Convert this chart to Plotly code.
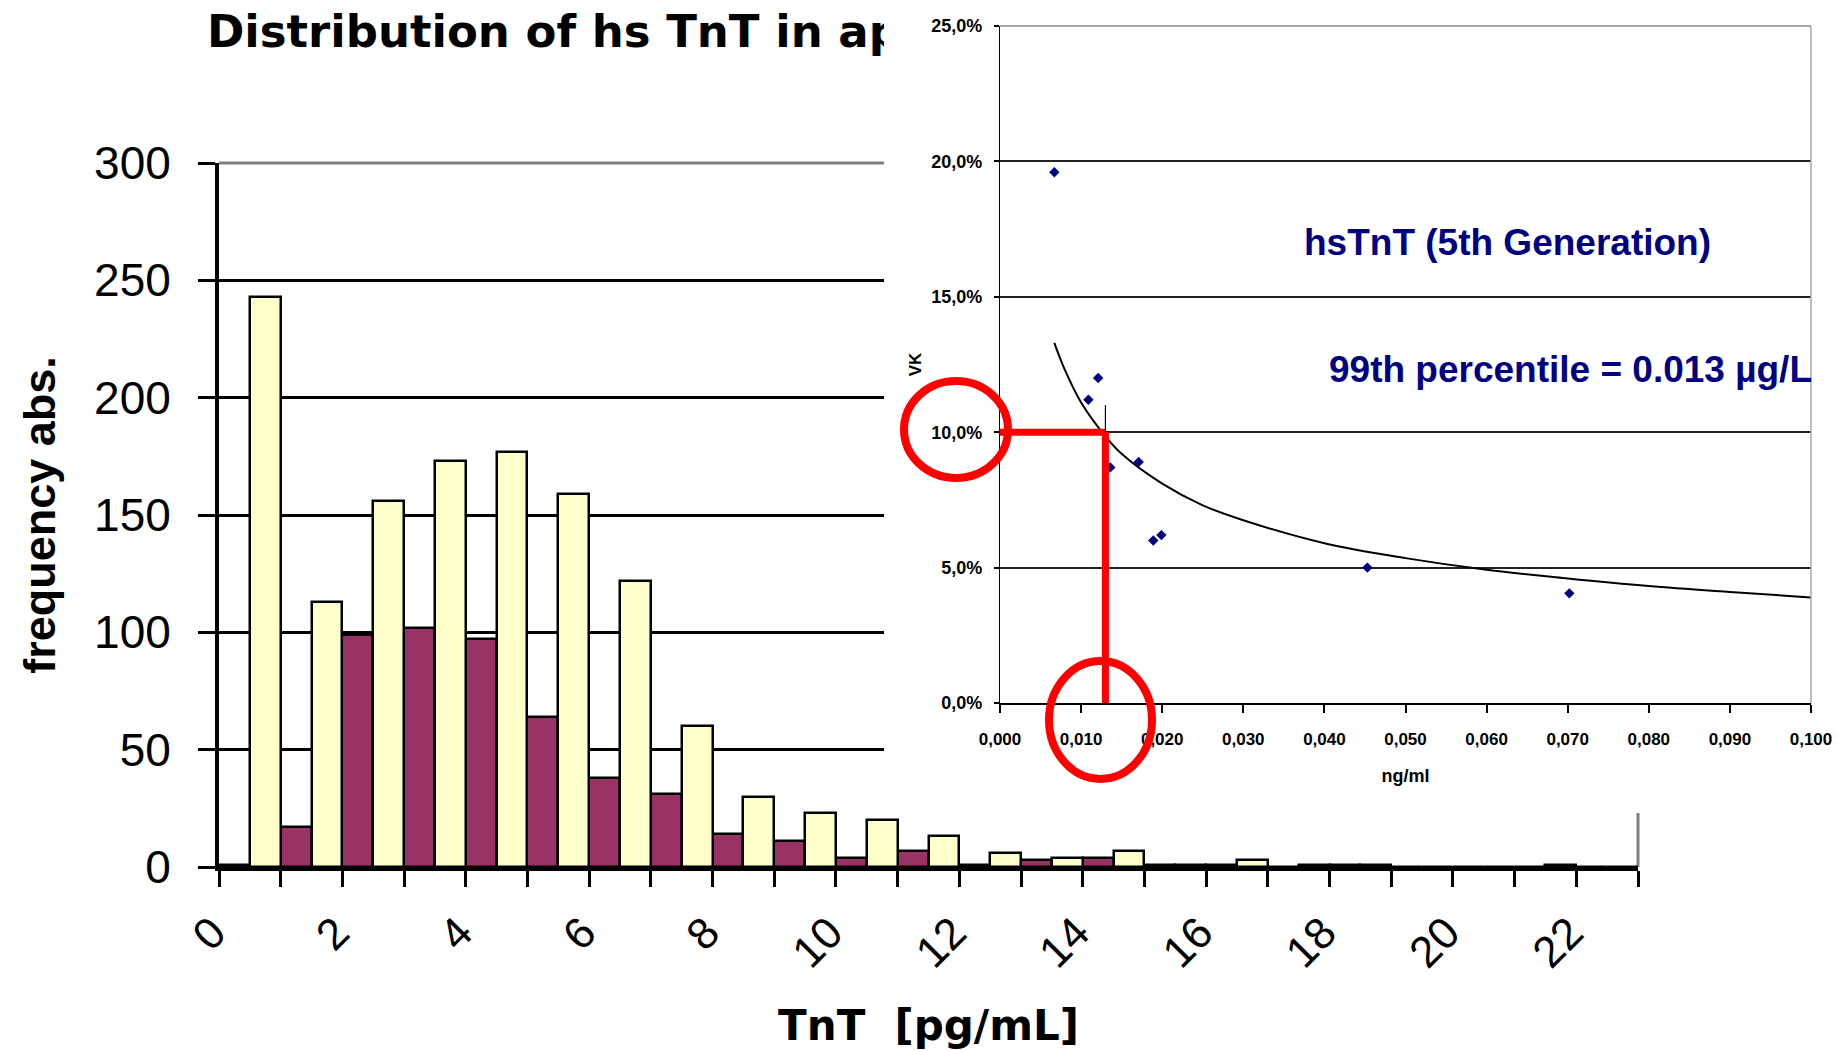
import plotly.graph_objects as go

W, H = 1839, 1051

# ---- Histogram: hs TnT distribution, two groups per 1 pg/mL bin ----
bins = list(range(23))
group_a = [1, 17, 99, 102, 97, 64, 38, 31, 14, 11, 4, 7, 1, 3, 4, 1, 1, 0, 1, 0, 0, 0, 0]
group_b = [243, 113, 156, 173, 177, 159, 122, 60, 30, 23, 20, 13, 6, 4, 7, 1, 3, 1, 1, 0, 0, 1, 0]
bin_label_pos = list(range(0, 23, 2))
bin_labels = [str(v) for v in bin_label_pos]
freq_ticks = [0, 50, 100, 150, 200, 250, 300]
freq_grid = [50, 100, 150, 200, 250]
heading = "Distribution of hs TnT in ap"

# ---- Inset: imprecision profile (CV vs concentration) ----
conc = [0.0067, 0.0109, 0.0121, 0.0136, 0.0171, 0.0189, 0.0199, 0.0453, 0.0702]
cv = [19.6, 11.2, 12.0, 8.7, 8.9, 6.0, 6.2, 5.0, 4.05]
trend_conc = [0.0067, 0.008, 0.010, 0.013, 0.015, 0.020, 0.025, 0.030,
              0.040, 0.050, 0.060, 0.070, 0.080, 0.090, 0.100]
trend_cv = [13.3, 12.3, 11.1, 9.85, 9.2, 8.1, 7.3, 6.75,
            5.9, 5.35, 4.92, 4.6, 4.32, 4.1, 3.9]
conc_ticks = [0.00, 0.01, 0.02, 0.03, 0.04, 0.05, 0.06, 0.07, 0.08, 0.09, 0.10]
conc_labels = ["0,000", "0,010", "0,020", "0,030", "0,040", "0,050",
               "0,060", "0,070", "0,080", "0,090", "0,100"]
cv_ticks = [0, 5, 10, 15, 20, 25]
cv_labels = ["0,0%", "5,0%", "10,0%", "15,0%", "20,0%", "25,0%"]
p99_conc = 0.013
p99_cv = 10.0


def px_x(px):
    return px / W


def px_y(py):
    return 1 - py / H


PURPLE = "#993366"
CREAM = "#FFFFCC"
NAVY = "#000080"
RED = "#FF0000"

fig = go.Figure()

# histogram bars
fig.add_trace(go.Bar(x=bins, y=group_a, marker=dict(color=PURPLE, line=dict(color="black", width=2.5)),
                     xaxis="x", yaxis="y"))
fig.add_trace(go.Bar(x=bins, y=group_b, marker=dict(color=CREAM, line=dict(color="black", width=2.5)),
                     xaxis="x", yaxis="y"))
# helper traces for the overlay axes (labels / gridlines)
fig.add_trace(go.Scatter(x=[], y=[], xaxis="x5", yaxis="y"))
fig.add_trace(go.Scatter(x=[], y=[], xaxis="x", yaxis="y6"))

# heading strip (drawn before the inset panel, so the panel hides its tail)
fig.add_trace(go.Scatter(x=[px_x(207)], y=[0.44], mode="text", text=["<b>" + heading + "</b>"],
                         textposition="middle right", cliponaxis=False,
                         textfont=dict(family="DejaVu Sans", size=45, color="black"),
                         xaxis="x2", yaxis="y2"))

# white panel behind the inset
fig.add_trace(go.Scatter(x=[-0.1, 1.1, 1.1, -0.1, -0.1], y=[-0.1, -0.1, 1.1, 1.1, -0.1],
                         mode="lines", fill="toself", fillcolor="white", line=dict(width=0),
                         xaxis="x3", yaxis="y3"))

# inset: trend curve, measurements, 99th percentile guides
fig.add_trace(go.Scatter(x=trend_conc, y=trend_cv, mode="lines", line=dict(color="black", width=2, shape="spline"),
                         xaxis="x4", yaxis="y4"))
fig.add_trace(go.Scatter(x=conc, y=cv, mode="markers", marker=dict(symbol="diamond", size=8, color=NAVY),
                         xaxis="x4", yaxis="y4"))
fig.add_trace(go.Scatter(x=[0, p99_conc], y=[p99_cv, p99_cv], mode="lines", line=dict(color=RED, width=7),
                         xaxis="x4", yaxis="y4"))
fig.add_trace(go.Scatter(x=[p99_conc, p99_conc], y=[p99_cv, 0], mode="lines", line=dict(color=RED, width=7),
                         xaxis="x4", yaxis="y4"))
fig.add_trace(go.Scatter(x=[p99_conc, p99_conc], y=[p99_cv + 1.0, p99_cv], mode="lines",
                         line=dict(color="black", width=1.2), xaxis="x4", yaxis="y4"))

boundaries = [b - 0.5 for b in bins] + [bins[-1] + 0.5]
xr = [boundaries[0], boundaries[-1]]

fig.update_layout(
    width=W, height=H, margin=dict(l=0, r=0, t=0, b=0, autoexpand=False),
    paper_bgcolor="white", plot_bgcolor="rgba(0,0,0,0)",
    showlegend=False, hovermode=False,
    font=dict(family="Liberation Sans", color="black"),
    barmode="group", bargap=0, bargroupgap=0,
    xaxis=dict(domain=[px_x(219), px_x(1638)], anchor="y", range=xr,
               tickmode="array", tickvals=boundaries, showticklabels=False,
               ticks="outside", ticklen=16, tickwidth=3, tickcolor="black",
               showline=True, linecolor="black", linewidth=4, showgrid=False, zeroline=False),
    xaxis5=dict(overlaying="x", anchor="y", range=xr, tickmode="array",
                tickvals=bin_label_pos, ticktext=bin_labels, tickangle=-45, ticks="",
                showline=False, showgrid=False, zeroline=False,
                tickfont=dict(size=44), ticklabelstandoff=30, ticklabelshift=-37,
                title=dict(text="<b>TnT  [pg/mL]</b>", font=dict(family="DejaVu Sans", size=42), standoff=35)),
    yaxis=dict(domain=[px_y(867), px_y(163)], anchor="x", range=[0, 300],
               tickmode="array", tickvals=freq_ticks,
               ticks="outside", ticklen=17, tickwidth=3, tickcolor="black",
               showline=True, linecolor="black", linewidth=4, showgrid=False, zeroline=False,
               tickfont=dict(size=46), ticklabelstandoff=18,
               title=dict(text="<b>frequency abs.</b>", font=dict(size=45), standoff=25)),
    yaxis6=dict(overlaying="y", anchor="x", range=[0, 300], tickmode="array", tickvals=freq_grid,
                showticklabels=False, ticks="", showgrid=True, gridcolor="black", gridwidth=3,
                zeroline=False, showline=False),
    xaxis2=dict(domain=[0, 1], anchor="y2", range=[0, 1], visible=False, fixedrange=True),
    yaxis2=dict(domain=[px_y(64), 1], anchor="x2", range=[0, 1], visible=False, fixedrange=True),
    xaxis3=dict(domain=[px_x(884), 1], anchor="y3", range=[0, 1], visible=False, fixedrange=True),
    yaxis3=dict(domain=[px_y(813), 1], anchor="x3", range=[0, 1], visible=False, fixedrange=True),
    xaxis4=dict(domain=[px_x(1000), px_x(1811)], anchor="y4", range=[0, 0.1],
                tickmode="array", tickvals=conc_ticks, ticktext=conc_labels,
                ticks="outside", ticklen=8, tickwidth=1.5, tickcolor="black",
                showline=True, linecolor="black", linewidth=2, showgrid=False, zeroline=False,
                tickfont=dict(size=17, weight="bold"), ticklabelstandoff=12,
                title=dict(text="ng/ml", font=dict(size=18, weight="bold"), standoff=21)),
    yaxis4=dict(domain=[px_y(703), px_y(26)], anchor="x4", range=[0, 25],
                tickmode="array", tickvals=cv_ticks, ticktext=cv_labels,
                ticks="outside", ticklen=5, tickwidth=1.5, tickcolor="black",
                showline=True, linecolor="black", linewidth=1.2,
                showgrid=True, gridcolor="#222222", gridwidth=1.5, zeroline=False,
                tickfont=dict(size=18, weight="bold"), ticklabelstandoff=8,
                title=dict(text="VK", font=dict(size=17, weight="bold"), standoff=5)),
    annotations=[
        dict(x=0.0626, y=17.0, xref="x4", yref="y4", text="<b>hsTnT (5th Generation)</b>",
             showarrow=False, font=dict(size=37, color=NAVY), xanchor="center", yanchor="middle"),
        dict(x=0.0704, y=12.3, xref="x4", yref="y4", text="<b>99th percentile = 0.013 µg/L</b>",
             showarrow=False, font=dict(size=37, color=NAVY), xanchor="center", yanchor="middle"),
    ],
    shapes=[
        # histogram frame (top / right), grey
        dict(type="line", xref="x domain", yref="y domain", x0=0, x1=1, y0=1, y1=1,
             line=dict(color="#808080", width=3), layer="below"),
        dict(type="line", xref="x domain", yref="y domain", x0=1, x1=1, y0=0, y1=1,
             line=dict(color="#808080", width=3), layer="below"),
        # inset frame (top / right)
        dict(type="line", xref="x4 domain", yref="y4 domain", x0=0, x1=1, y0=1, y1=1,
             line=dict(color="#888888", width=1.5), layer="above"),
        dict(type="line", xref="x4 domain", yref="y4 domain", x0=1, x1=1, y0=0, y1=1,
             line=dict(color="#AAAAAA", width=1.5), layer="above"),
        # red highlight ellipses
        dict(type="circle", xref="paper", yref="paper",
             x0=px_x(904), x1=px_x(1008), y0=px_y(478), y1=px_y(381),
             line=dict(color=RED, width=8), layer="above"),
        dict(type="circle", xref="paper", yref="paper",
             x0=px_x(1049), x1=px_x(1152), y0=px_y(779), y1=px_y(661),
             line=dict(color=RED, width=8), layer="above"),
    ],
)

fig.write_html("out.html")
